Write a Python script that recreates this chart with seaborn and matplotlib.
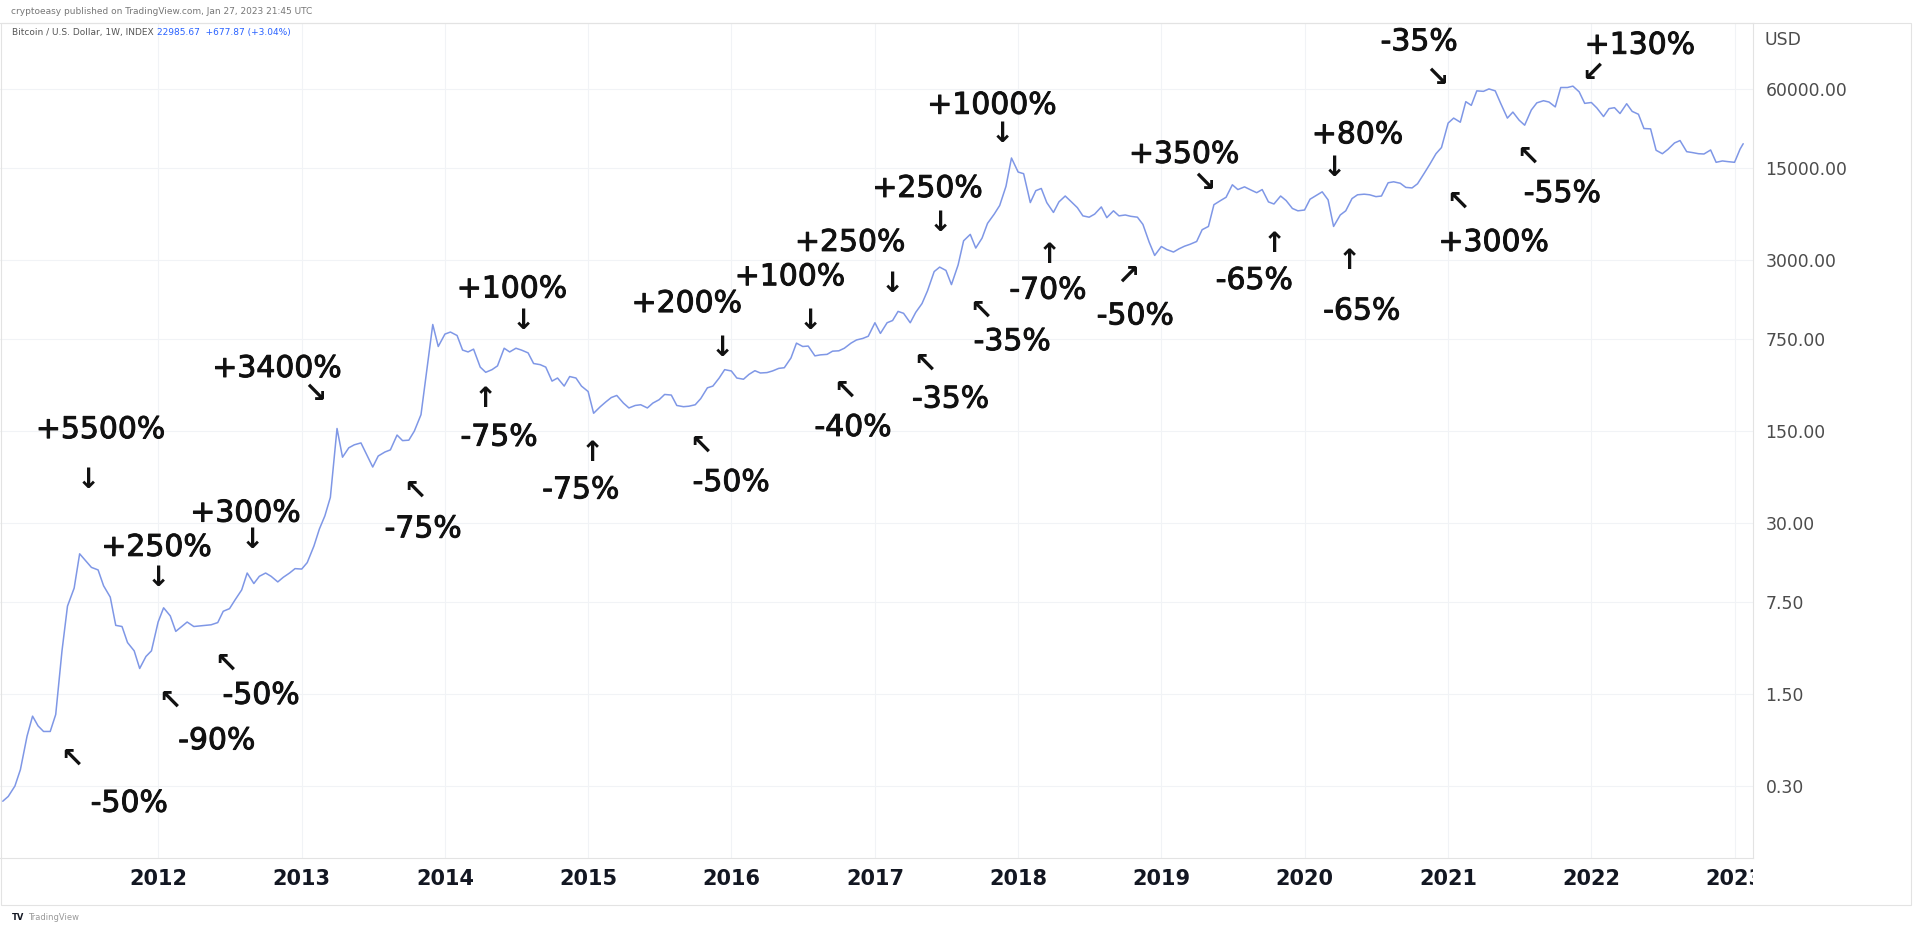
"""Bitcoin weekly price history with cycle annotations (log scale)."""

import matplotlib.dates as mdates
import matplotlib.patheffects as pe
import matplotlib.pyplot as plt
import pandas as pd
import seaborn as sns
from matplotlib.patches import Rectangle
from matplotlib.ticker import NullLocator
from matplotlib.transforms import Bbox, TransformedBbox

# Closes on the 1st and 15th of each month, USD
p2010 = [0.23, 0.25]
p2011 = [0.30, 0.40, 0.72, 1.02, 0.86, 0.78, 0.78, 1.05, 3.2, 7.0, 9.6, 17.5,
         15.4, 13.8, 13.2, 10.0, 8.2, 5.0, 4.9, 3.7, 3.2, 2.35, 2.9, 3.2]
p2012 = [5.3, 6.8, 5.9, 4.5, 4.9, 5.3, 4.9, 4.95, 5.0, 5.05, 5.25, 6.4,
         6.7, 7.8, 9.3, 12.5, 10.4, 11.8, 12.5, 11.8, 10.7, 11.6, 12.5, 13.5]
p2013 = [13.4, 15.0, 20.0, 27.0, 34.0, 47.0, 157.0, 95.0, 112.0, 118.0, 122.0, 100.0,
         80.0, 97.0, 104.0, 108.0, 140.0, 127.0, 128.0, 150.0, 200.0, 420.0, 970.0, 660.0]
p2014 = [820, 850, 800, 620, 600, 630, 460, 420, 440, 470, 640, 600,
         640, 620, 590, 490, 480, 460, 360, 380, 330, 390, 380, 330]
p2015 = [300, 205, 230, 250, 270, 280, 245, 225, 235, 238, 225, 245,
         260, 285, 282, 235, 230, 232, 238, 265, 320, 330, 380, 440]
p2016 = [430, 380, 372, 405, 432, 415, 418, 430, 450, 455, 540, 700,
         660, 665, 560, 570, 575, 608, 612, 640, 700, 740, 760, 790]
p2017 = [1000, 830, 1000, 1040, 1220, 1180, 1000, 1200, 1400, 1750, 2450, 2650,
         2500, 1950, 2750, 4200, 4700, 3700, 4400, 5700, 6700, 7800, 10900, 17900]
p2018 = [14000, 13600, 8200, 10100, 10500, 8200, 6900, 8300, 9200, 8400, 7500, 6500,
         6350, 6700, 7600, 6300, 7100, 6500, 6600, 6450, 6350, 5600, 4100, 3250]
p2019 = [3800, 3600, 3450, 3650, 3820, 3950, 4150, 5100, 5400, 7900, 8500, 9000,
         11200, 10300, 10800, 10300, 9750, 10300, 8300, 8000, 9200, 8500, 7400, 7100]
p2020 = [7200, 8700, 9350, 9900, 8600, 5400, 6600, 7100, 8800, 9400, 9500, 9400,
         9100, 9200, 11600, 11800, 11500, 10700, 10600, 11400, 13700, 16000, 19300, 21500]
p2021 = [33000, 36000, 33500, 48000, 45000, 58000, 57500, 60000, 58000, 46500, 36000, 40000,
         34700, 31800, 41500, 47000, 48800, 47700, 43800, 61500, 61500, 63000, 57000, 46600]
p2022 = [47300, 43000, 37000, 42500, 43200, 39000, 46300, 40500, 38500, 30000, 29800, 20500,
         19300, 20800, 23300, 24300, 20000, 19700, 19300, 19200, 20600, 16600, 17000, 16800]
p2023 = [16600, 20900]
last_date = "2023-01-23"
last_close = 22985.67

price_ticks = [0.3, 1.5, 7.5, 30, 150, 750, 3000, 15000, 60000]
years = list(range(2012, 2024))

# (label, year, price, arrow, arrow year, arrow price)
notes = [
    ("+5500%", 2011.60, 154, "↓", 2011.51, 63.8),
    ("+250%", 2011.99, 19.6, "↓", 2012.00, 11.5),
    ("+300%", 2012.61, 35.7, "↓", 2012.66, 22.3),
    ("+3400%", 2012.83, 449, "↘", 2013.09, 286),
    ("+100%", 2014.47, 1808, "↓", 2014.55, 1035),
    ("+200%", 2015.69, 1400, "↓", 2015.94, 646),
    ("+100%", 2016.41, 2239, "↓", 2016.55, 1035),
    ("+250%", 2016.83, 4084, "↓", 2017.12, 1970),
    ("+250%", 2017.37, 10500, "↓", 2017.46, 5757),
    ("+1000%", 2017.82, 45100, "↓", 2017.89, 27300),
    ("+350%", 2019.16, 19100, "↘", 2019.30, 11600),
    ("+80%", 2020.37, 26900, "↓", 2020.21, 15100),
    ("-35%", 2020.80, 137000, "↘", 2020.92, 72300),
    ("+130%", 2022.34, 129000, "↙", 2022.01, 78700),
    ("-50%", 2011.80, 0.222, "↖", 2011.40, 0.481),
    ("-90%", 2012.41, 0.664, "↖", 2012.08, 1.345),
    ("-50%", 2012.72, 1.47, "↖", 2012.47, 2.56),
    ("-75%", 2013.85, 27.1, "↖", 2013.79, 52.6),
    ("-75%", 2014.38, 135, "↑", 2014.28, 263),
    ("-75%", 2014.95, 53.7, "↑", 2015.03, 102),
    ("-50%", 2016.00, 61.1, "↖", 2015.79, 116),
    ("-40%", 2016.85, 160, "↖", 2016.79, 305),
    ("-35%", 2017.53, 263, "↖", 2017.35, 489),
    ("-35%", 2017.96, 720, "↖", 2017.74, 1230),
    ("-70%", 2018.21, 1770, "↑", 2018.22, 3300),
    ("-50%", 2018.82, 1128, "↗", 2018.77, 2290),
    ("-65%", 2019.65, 2100, "↑", 2019.79, 4000),
    ("-65%", 2020.40, 1230, "↑", 2020.31, 2960),
    ("+300%", 2021.32, 4084, "↖", 2021.07, 8290),
    ("-55%", 2021.80, 9630, "↖", 2021.56, 18330),
]


def year_to_num(yf):
    return mdates.date2num(pd.Timestamp("2012-01-01")) + (yf - 2012) * 365.25


dates = pd.date_range("2010-12-01", "2023-01-15", freq="SMS")
closes = p2010 + p2011 + p2012 + p2013 + p2014 + p2015 + p2016 + p2017 \
    + p2018 + p2019 + p2020 + p2021 + p2022 + p2023
df = pd.DataFrame({"date": dates, "close": closes})
df = pd.concat(
    [df, pd.DataFrame({"date": [pd.Timestamp(last_date)], "close": [last_close]})],
    ignore_index=True,
)

sns.set_style("white")
plt.rcParams["font.family"] = ["DejaVu Sans"]

W, H = 1920, 934
fig = plt.figure(figsize=(W / 100, H / 100), dpi=100)
ax = fig.add_axes([0, (H - 858) / H, 1753 / W, (858 - 23) / H])

sns.lineplot(data=df, x="date", y="close", ax=ax, color="#7f97e6", linewidth=1.1)

ax.set_yscale("log")
ax.set_ylim(0.0851, 190300)
ax.set_xlim(pd.Timestamp("2010-11-24"), pd.Timestamp("2023-02-17"))
ax.set_xlabel("")
ax.set_ylabel("")

# price scale on the right
ax.yaxis.tick_right()
ax.set_yticks(price_ticks)
ax.set_yticklabels([f"{v:.2f}" for v in price_ticks])
ax.yaxis.set_minor_locator(NullLocator())
ax.tick_params(axis="y", length=0, pad=9, labelsize=12.4, labelcolor="#4c4c4c")

# time scale
ax.set_xticks([pd.Timestamp(f"{y}-01-01") for y in years])
ax.set_xticklabels([str(y) for y in years])
ax.tick_params(axis="x", length=0, pad=8, labelsize=15, labelcolor="#131722")
for lbl in ax.get_xticklabels():
    lbl.set_fontweight("bold")

ax.grid(True, which="major", color="#f1f3f6", linewidth=0.8)
ax.set_axisbelow(True)
for side in ["top", "right", "bottom"]:
    ax.spines[side].set_color("#e3e3e3")
    ax.spines[side].set_linewidth(0.8)
ax.spines["left"].set_visible(False)

# cycle annotations (slightly heavier than regular weight)
heavy = [pe.withStroke(linewidth=0.7, foreground="#111111")]
for label, tx, ty, arrow, axx, ayy in notes:
    ax.text(year_to_num(tx), ty, label, ha="center", va="center",
            fontsize=21.5, color="#111111", path_effects=heavy)
    ax.text(year_to_num(axx), ayy, arrow, ha="center", va="center",
            fontsize=20, fontweight="bold", color="#111111")

# header, footer, panel frame
fig.text(11 / W, 1 - 11 / H, "cryptoeasy published on TradingView.com, Jan 27, 2023 21:45 UTC",
         fontsize=6.5, color="#777777", va="center")
fig.text(12 / W, 1 - 33 / H, "Bitcoin / U.S. Dollar, 1W, INDEX",
         fontsize=6.5, color="#555555", va="center")
fig.text(157 / W, 1 - 33 / H, "22985.67  +677.87 (+3.04%)",
         fontsize=6.5, color="#2962ff", va="center")
fig.text(1765 / W, 1 - 40 / H, "USD", fontsize=12.4, color="#4c4c4c", va="center")
fig.text(12 / W, 1 - 918 / H, "TV", fontsize=6, fontweight="bold", color="#131722", va="center")
fig.text(28 / W, 1 - 918 / H, "TradingView", fontsize=6, color="#999999", va="center")
fig.add_artist(Rectangle((0.5 / W, (H - 905) / H), 1910 / W, (905 - 23) / H,
                         transform=fig.transFigure, fill=False,
                         edgecolor="#e3e3e3", linewidth=0.8))

# the last year label is cut by the price scale
fig.canvas.draw()
clip = TransformedBbox(Bbox.from_extents(0, 0, 1753 / W, 1), fig.transFigure)
for lbl in ax.get_xticklabels():
    lbl.set_clip_box(clip)
    lbl.set_clip_on(True)

fig.savefig("out.png", dpi=100)
plt.close(fig)
